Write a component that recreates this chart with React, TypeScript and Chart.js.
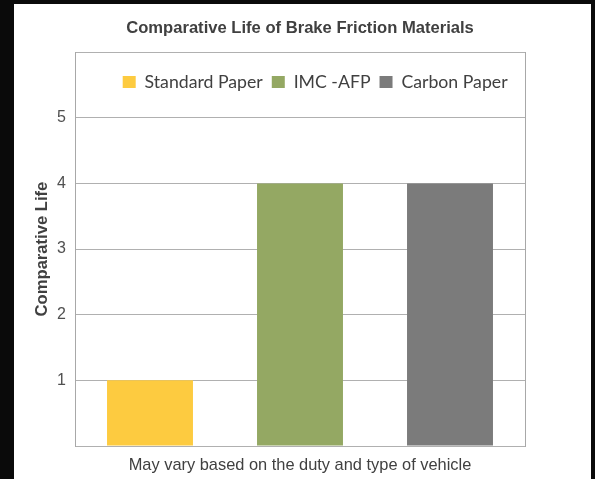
import React, { useEffect, useRef } from 'react';
import { Chart, registerables } from 'chart.js';

Chart.register(...registerables);

// ---- data ----
const categories = ['Standard Paper', 'IMC -AFP', 'Carbon Paper'];
const seriesNames = ['Standard Paper', 'IMC -AFP', 'Carbon Paper'];
const standardPaper = [1, null, null];
const imcAfp = [null, 4, null];
const carbonPaper = [null, null, 4];
const yTickLabels = [1, 2, 3, 4, 5];
const yMin = 0;
const yMax = 6;
const titleText = 'Comparative Life of Brake Friction Materials';
const yTitleText = 'Comparative Life';
const xTitleText = 'May vary based on the duty and type of vehicle';

// ---- styles ----
const COLORS = ['#FDCB40', '#94A863', '#7B7B7B'];
const TEXT = '#404040';
const GRID = '#b0b0b0';
const FRAME = '#a8a8a8';
const ARIAL = 'Arial, "Liberation Sans", sans-serif';
const LEGEND_FONT = 'Lato, Calibri, "Open Sans", sans-serif';
const LEGEND_SIZE = 17.7;
const LEGEND_PAD = 9;
const LEGEND_TOP = 78 - LEGEND_PAD - LEGEND_SIZE / 2;
const LEGEND_LEFT = 108.7 - LEGEND_PAD;

const legendInside = {
  id: 'legendInside',
  beforeDraw(chart: any) {
    const lg = chart.legend;
    if (!lg) return;
    const h = lg.bottom - lg.top;
    const w = lg.right - lg.left;
    lg.top = LEGEND_TOP;
    lg.bottom = LEGEND_TOP + h;
    lg.left = LEGEND_LEFT;
    lg.right = LEGEND_LEFT + w;
  },
};

export default function App() {
  const ref = useRef<HTMLCanvasElement | null>(null);

  useEffect(() => {
    const canvas = ref.current;
    if (!canvas) return;
    const series = [standardPaper, imcAfp, carbonPaper];
    const chart = new Chart(canvas, {
      type: 'bar',
      data: {
        labels: categories,
        datasets: seriesNames.map((name, i) => ({
          label: name,
          data: series[i],
          backgroundColor: COLORS[i],
          borderWidth: 0,
          skipNull: true,
          barPercentage: 0.573,
          categoryPercentage: 1,
        })),
      },
      options: {
        responsive: false,
        animation: false,
        devicePixelRatio: 1,
        layout: { padding: { left: 0, right: 66, top: 0, bottom: 0 } },
        plugins: {
          title: {
            display: true,
            text: titleText,
            fullSize: false,
            color: TEXT,
            font: { family: ARIAL, size: 16.6, weight: 'bold', lineHeight: 1.2 },
            padding: { top: 14, bottom: -22.5 },
          },
          legend: {
            display: true,
            position: 'top',
            align: 'start',
            fullSize: false,
            labels: {
              color: TEXT,
              font: { family: LEGEND_FONT, size: LEGEND_SIZE },
              boxWidth: 13,
              boxHeight: 12,
              padding: LEGEND_PAD,
            },
          },
          tooltip: { enabled: false },
        },
        scales: {
          x: {
            type: 'category',
            grid: { display: false, drawTicks: false },
            border: { display: false },
            ticks: { display: false },
            title: {
              display: true,
              text: xTitleText,
              color: TEXT,
              font: { family: ARIAL, size: 16.4, lineHeight: 1.2 },
              padding: { top: 9.2, bottom: 4.1 },
            },
          },
          y: {
            type: 'linear',
            position: 'left',
            min: yMin,
            max: yMax,
            afterFit: (scale: any) => {
              scale.width = 61;
            },
            grid: { color: GRID, lineWidth: 1, drawTicks: false },
            border: { display: true, color: FRAME, width: 1 },
            ticks: {
              stepSize: 1,
              padding: 9,
              color: '#505050',
              font: { family: ARIAL, size: 16 },
              callback: (v: any) => (yTickLabels.includes(Number(v)) ? String(v) : ''),
            },
            title: {
              display: true,
              text: yTitleText,
              color: TEXT,
              font: { family: ARIAL, size: 16.6, weight: 'bold', lineHeight: 1.2 },
              padding: { top: 18.2, bottom: 0 },
            },
          },
          yRight: {
            type: 'linear',
            position: 'right',
            display: true,
            afterFit: (scale: any) => {
              scale.width = 0;
            },
            grid: { display: false, drawTicks: false },
            border: { display: true, color: FRAME, width: 1 },
            ticks: { display: false },
          },
        },
      } as any,
      plugins: [legendInside],
    });
    return () => chart.destroy();
  }, []);

  return (
    <div
      style={{
        position: 'fixed',
        left: 0,
        top: 0,
        width: 595,
        height: 479,
        background: '#0a0a0a',
        overflow: 'hidden',
      }}
    >
      <div
        style={{
          position: 'absolute',
          left: 14,
          top: 4,
          width: 577,
          height: 475,
          background: '#ffffff',
        }}
      >
        <canvas ref={ref} width={577} height={475} style={{ display: 'block', width: 577, height: 475 }} />
      </div>
    </div>
  );
}
